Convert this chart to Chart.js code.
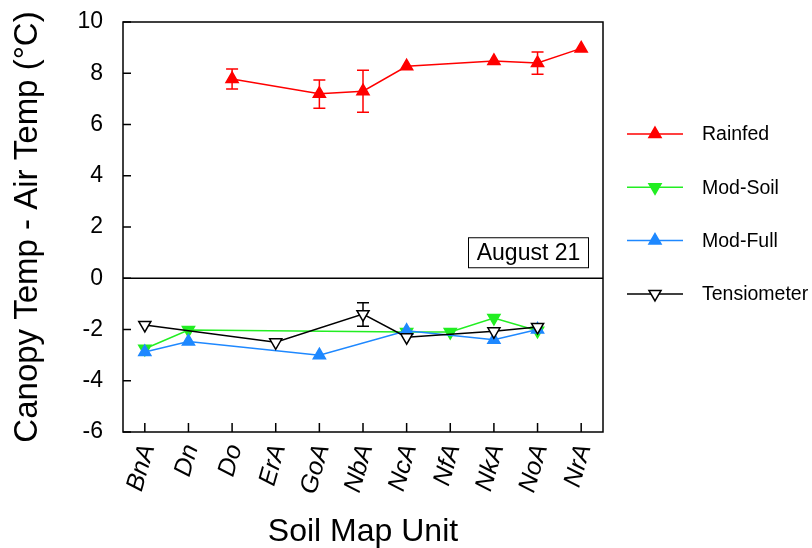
<!DOCTYPE html>
<html>
<head>
<meta charset="utf-8">
<script src="https://cdn.jsdelivr.net/npm/chart.js@4.4.1/dist/chart.umd.min.js"></script>
<style>
html,body{margin:0;padding:0;background:#fff;}
canvas{display:block;}
</style>
</head>
<body>
<canvas id="c" width="812" height="548"></canvas>
<script>
const categories = ['BnA','Dn','Do','ErA','GoA','NbA','NcA','NfA','NkA','NoA','NrA'];
const rainfed        = [null, null, 7.78, null, 7.2,  7.3,  8.27, null, 8.48, 8.4,  8.97];
const rainfedErrLow  = [null, null, 7.39, null, 6.63, 6.48, null, null, null, 7.96, null];
const rainfedErrHigh = [null, null, 8.17, null, 7.74, 8.12, null, null, null, 8.83, null];
const modSoil        = [-2.75, -2.02, null, null, null, null, -2.1, -2.1, -1.55, -2.05, null];
const modFull        = [-2.88, -2.47, null, null, -3.0, null, -2.05, null, -2.4, -2.0, null];
const tensiometer    = [-1.82, null, null, -2.5, null, -1.4, -2.3, null, -2.07, -1.9, null];
const tensErrLow     = [null, null, null, null, null, -1.87, null, null, null, null, null];
const tensErrHigh    = [null, null, null, null, null, -0.96, null, null, null, null, null];
const yMin = -6, yMax = 10, yStep = 2;
const seriesNames = ['Rainfed', 'Mod-Soil', 'Mod-Full', 'Tensiometer'];
const boxLabel = 'August 21';
const xTitle = 'Soil Map Unit';
const yTitle = 'Canopy Temp - Air Temp (°C)';

const FONT = "'Liberation Sans', Arial, sans-serif";
const RED = '#ff0000', GREEN = '#22ee22', BLUE = '#1e88ff', BLACK = '#000000';

function tri(ctx, x, y, r, down, fill, stroke, lw) {
  ctx.save();
  ctx.beginPath();
  const s = down ? -1 : 1;
  ctx.moveTo(x, y - s * r);
  ctx.lineTo(x + r * Math.sqrt(3) / 2, y + s * r / 2);
  ctx.lineTo(x - r * Math.sqrt(3) / 2, y + s * r / 2);
  ctx.closePath();
  ctx.fillStyle = fill; ctx.fill();
  if (stroke) { ctx.strokeStyle = stroke; ctx.lineWidth = lw; ctx.stroke(); }
  ctx.restore();
}

const decor = {
  id: 'decor',
  beforeDatasetsDraw(chart) {
    const {ctx, chartArea: a, scales: {x, y}} = chart;
    ctx.save();
    ctx.strokeStyle = '#000'; ctx.lineWidth = 1.5;
    ctx.beginPath();
    ctx.moveTo(a.left, y.getPixelForValue(0));
    ctx.lineTo(a.right, y.getPixelForValue(0));
    ctx.stroke();
    const bars = [[rainfedErrLow, rainfedErrHigh, RED], [tensErrLow, tensErrHigh, BLACK]];
    bars.forEach(([lo, hi, col]) => {
      ctx.strokeStyle = col; ctx.lineWidth = 1.5;
      lo.forEach((v, i) => {
        if (v === null || hi[i] === null) return;
        const px = x.getPixelForValue(i);
        const p1 = y.getPixelForValue(v), p2 = y.getPixelForValue(hi[i]);
        ctx.beginPath();
        ctx.moveTo(px, p1); ctx.lineTo(px, p2);
        ctx.moveTo(px - 6, p1); ctx.lineTo(px + 6, p1);
        ctx.moveTo(px - 6, p2); ctx.lineTo(px + 6, p2);
        ctx.stroke();
      });
    });
    ctx.restore();
  },
  afterDraw(chart) {
    const {ctx, chartArea: a, scales: {x, y}} = chart;
    ctx.save();
    ctx.strokeStyle = '#000'; ctx.lineWidth = 1.5;
    ctx.strokeRect(a.left, a.top, a.right - a.left, a.bottom - a.top);
    ctx.beginPath();
    for (let v = yMin; v <= yMax; v += yStep) {
      const py = y.getPixelForValue(v);
      ctx.moveTo(a.left, py); ctx.lineTo(a.left + 8, py);
    }
    categories.forEach((c, i) => {
      const px = x.getPixelForValue(i);
      ctx.moveTo(px, a.bottom); ctx.lineTo(px, a.bottom - 9);
    });
    ctx.stroke();
    const bx = a.right - 135, by = y.getPixelForValue(0) - 41, bw = 120, bh = 30;
    ctx.fillStyle = '#fff';
    ctx.fillRect(bx, by, bw, bh);
    ctx.lineWidth = 1; ctx.strokeStyle = '#000';
    ctx.strokeRect(bx + 0.5, by + 0.5, bw, bh);
    ctx.fillStyle = '#000';
    ctx.font = '23px ' + FONT;
    ctx.textAlign = 'center'; ctx.textBaseline = 'middle';
    ctx.fillText(boxLabel, bx + bw / 2 + 0.5, by + bh / 2 + 1.5);
    const ds = chart.data.datasets;
    ctx.font = '19.5px ' + FONT;
    ctx.textAlign = 'left';
    ds.forEach((d, i) => {
      const ly = a.top + 112 + i * 53.3;
      const lx = a.right + 24;
      ctx.strokeStyle = d.borderColor; ctx.lineWidth = 1.5;
      ctx.beginPath(); ctx.moveTo(lx, ly); ctx.lineTo(lx + 56, ly); ctx.stroke();
      const down = d.pointRotation === 180;
      tri(ctx, lx + 28, ly, 7, down, d.pointBackgroundColor, d.pointBorderColor, d.pointBorderWidth);
      ctx.fillStyle = '#000';
      ctx.fillText(d.label, lx + 75, ly + 1);
    });
    ctx.restore();
  }
};

function ds(label, data, color, rot, fill, order) {
  return {
    label, data, borderColor: color, borderWidth: 1.5,
    pointStyle: 'triangle', pointRotation: rot, pointRadius: 7,
    pointBackgroundColor: fill, pointBorderColor: color, pointBorderWidth: 1.5,
    spanGaps: true, tension: 0, fill: false, order
  };
}

new Chart(document.getElementById('c'), {
  type: 'line',
  data: {
    labels: categories,
    datasets: [
      ds(seriesNames[0], rainfed, RED, 0, RED, 4),
      ds(seriesNames[1], modSoil, GREEN, 180, GREEN, 3),
      ds(seriesNames[2], modFull, BLUE, 0, BLUE, 2),
      ds(seriesNames[3], tensiometer, BLACK, 180, '#ffffff', 1)
    ]
  },
  options: {
    responsive: false,
    animation: false,
    layout: {padding: {left: 0, right: 209, top: 22, bottom: 0}},
    plugins: {legend: {display: false}, tooltip: {enabled: false}},
    scales: {
      x: {
        type: 'category', offset: true,
        grid: {display: false, drawTicks: true, tickLength: 9}, border: {display: false},
        ticks: {color: '#000', font: {family: FONT, size: 25, style: 'italic'}, maxRotation: 74, minRotation: 74, padding: 0, labelOffset: 3, autoSkip: false},
        title: {display: true, text: xTitle, color: '#000', font: {family: FONT, size: 32, lineHeight: 1}, padding: 0},
        afterFit(s) { s.height = 116; }
      },
      y: {
        min: yMin, max: yMax,
        grid: {display: false, drawTicks: true, tickLength: 20}, border: {display: false},
        ticks: {stepSize: yStep, color: '#000', font: {family: FONT, size: 23}, padding: 0},
        title: {display: true, text: yTitle, color: '#000', font: {family: FONT, size: 33, lineHeight: 1}, padding: {top: 11, bottom: 0}},
        afterFit(s) { s.width = 123; }
      }
    }
  },
  plugins: [decor]
});
</script>
</body>
</html>
